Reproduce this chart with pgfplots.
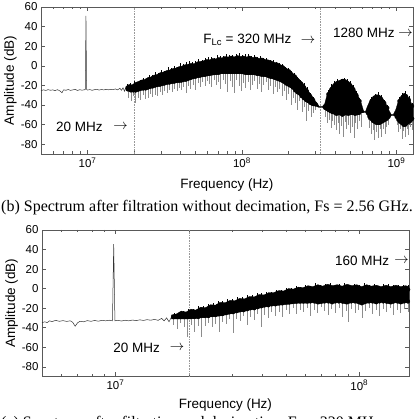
\documentclass[border=0pt]{standalone}
\usepackage{fontspec}
\setmainfont{Liberation Sans}
\newfontfamily\capfont{Liberation Serif}
\usepackage{pgfplots}
\usepackage{pgfplotstable}
\pgfplotsset{compat=1.18}

% ---------- top panel data (x = log10 of frequency in Hz) ----------
\pgfplotstableread{
x y
6.699 -25.5
6.715 -24.5
6.730 -25.2
6.745 -24.3
6.760 -25.0
6.775 -24.6
6.790 -25.3
6.805 -24.4
6.820 -25.5
6.835 -27.5
6.845 -24.5
6.860 -25.0
6.875 -24.2
6.890 -25.1
6.905 -24.6
6.920 -24.0
6.935 -25.2
6.950 -24.4
6.965 -24.9
6.980 -24.5
6.986 -24.0
6.990 51.0
6.994 -24.0
7.000 -24.8
7.015 -24.3
7.030 -25.0
7.045 -24.4
7.060 -24.0
7.075 -24.8
7.090 -24.2
7.105 -24.6
7.120 -24.0
7.135 -24.5
7.150 -24.1
7.165 -24.4
7.180 -23.6
7.195 -24.5
7.210 -23.0
7.220 -25.0
7.230 -22.5
7.240 -26.0
7.250 -21.0
}\topfloor

\pgfplotstableread{
x y
7.25 -21
7.27 -19
7.29 -19.5
7.31 -17
7.33 -16
7.35 -14.5
7.37 -14
7.39 -12
7.41 -11.5
7.43 -9.5
7.45 -9
7.47 -7
7.49 -6.5
7.51 -5
7.53 -4.5
7.55 -3
7.57 -2.5
7.59 -1
7.61 -0.5
7.63 1
7.65 1.5
7.67 2.5
7.69 2
7.71 4
7.73 4.5
7.75 5
7.77 6.5
7.79 6
7.81 7.5
7.83 7
7.85 8.5
7.87 8
7.89 9.5
7.91 9
7.93 10
7.95 9
7.97 10.5
7.99 9.5
8.01 10
8.03 9
8.05 10
8.07 8.5
8.09 9
8.11 7.5
8.13 8
8.15 6.5
8.17 6
8.19 5
8.21 3.5
8.23 3
8.25 1
8.27 0
8.29 -3
8.31 -4
8.33 -8
8.35 -10
8.37 -14
8.39 -17
8.41 -21
8.43 -26
8.45 -30
8.47 -35
8.49 -39
8.50 -41.5
8.52 -41.5
8.535 -39
8.55 -30
8.57 -23
8.59 -19
8.61 -16
8.63 -15
8.65 -13.5
8.67 -14
8.69 -16
8.71 -19
8.73 -24
8.75 -30
8.77 -37
8.785 -45
8.79 -46.5
8.80 -46.5
8.81 -42
8.83 -35
8.85 -31
8.87 -29.5
8.89 -30
8.91 -33
8.93 -38
8.95 -45
8.965 -49.5
8.98 -49.5
8.995 -45
9.01 -37
9.03 -31
9.05 -28
9.07 -30
9.09 -36
9.107 -42
9.107 -55
9.09 -58
9.07 -60
9.05 -62
9.03 -60
9.01 -56
8.995 -52
8.98 -50.5
8.965 -51
8.95 -54
8.93 -56
8.91 -58
8.89 -60
8.87 -60
8.85 -58
8.83 -55
8.81 -50
8.80 -47.5
8.79 -47.5
8.785 -48
8.77 -48
8.75 -50
8.73 -51
8.71 -49
8.69 -51
8.67 -50
8.65 -52
8.63 -50
8.61 -51
8.59 -49
8.57 -48
8.55 -46
8.535 -44
8.52 -42.5
8.50 -42.5
8.49 -42
8.47 -41
8.45 -40
8.43 -38
8.41 -36
8.39 -33
8.37 -30
8.35 -27
8.33 -24
8.31 -22
8.29 -20
8.27 -18
8.25 -16
8.23 -15
8.21 -14
8.19 -13
8.17 -12
8.15 -11
8.11 -10
8.07 -9
8.03 -9
7.99 -8
7.87 -8
7.83 -9
7.79 -10
7.75 -11
7.71 -12
7.67 -14
7.63 -16
7.59 -17
7.55 -18
7.51 -19
7.47 -21
7.43 -22
7.39 -24
7.35 -25
7.31 -27
7.27 -26
7.25 -25
}\topband

% downward spikes: top of spike y, length e
\pgfplotstableread{
x y e
7.262 -24 9
7.281 -25 11
7.296 -25 6
7.312 -25 13
7.329 -24 9
7.343 -23 12
7.361 -23 7
7.376 -23 11
7.392 -22 11
7.405 -21 8
7.421 -21 11
7.437 -20 10
7.452 -19 12
7.468 -19 8
7.483 -18 12
7.497 -18 8
7.514 -17 11
7.530 -17 8
7.546 -16 11
7.561 -16 8
7.578 -15 11
7.592 -15 8
7.607 -15 10
7.621 -14 8
7.637 -14 14
7.652 -13 8
7.668 -12 12
7.683 -11 9
7.699 -11 14
7.714 -10 8
7.728 -10 12
7.744 -9 8
7.760 -9 12
7.773 -8 8
7.789 -8 11
7.804 -7 15
7.818 -7 8
7.834 -7 13
7.849 -7 10
7.862 -6 18
7.878 -6 8
7.893 -6 13
7.907 -6 21
7.921 -6 10
7.936 -6 16
7.951 -6 22
7.966 -6 9
7.980 -6 15
7.995 -6 20
8.010 -6 12
8.024 -7 16
8.039 -7 10
8.053 -7 18
8.068 -7 13
8.082 -7 9
8.097 -8 16
8.112 -8 11
8.126 -9 18
8.141 -9 11
8.156 -9 8
8.170 -10 15
8.185 -11 10
8.200 -11 18
8.214 -12 10
8.229 -13 14
8.244 -14 10
8.258 -15 16
8.272 -16 10
8.287 -18 17
8.301 -19 10
8.316 -20 20
8.330 -22 11
8.345 -25 13
8.360 -27 18
8.374 -28 8
8.388 -31 16
8.402 -33 9
8.417 -35 21
8.431 -36 10
8.446 -38 14
8.460 -39 9
8.475 -39 6
8.540 -43 9
8.552 -44 14
8.563 -45 10
8.575 -46 17
8.586 -47 9
8.598 -47 13
8.609 -48 18
8.621 -48 10
8.632 -48 22
8.644 -48 13
8.655 -48 25
8.667 -48 9
8.678 -48 16
8.690 -48 12
8.701 -48 21
8.713 -48 14
8.724 -48 26
8.736 -48 10
8.747 -48 17
8.758 -48 8
8.770 -46 16
8.815 -48 7
8.826 -52 11
8.837 -54 16
8.848 -56 10
8.859 -57 19
8.870 -58 10
8.881 -58 16
8.892 -58 7
8.903 -57 16
8.914 -56 8
8.925 -55 15
8.936 -54 8
8.948 -52 8
9.002 -52 8
9.013 -55 13
9.024 -57 7
9.035 -58 17
9.046 -60 7
9.057 -60 13
9.068 -58 7
9.079 -57 14
9.090 -56 6
9.101 -54 12
}\topdown

% upward spikes: base y, length e
\pgfplotstableread{
x y e
7.26 -23 4
7.28 -22 4
7.30 -21 5
7.32 -20 3
7.34 -18 4
7.36 -17 5
7.38 -16 3
7.40 -14 5
7.42 -13 4
7.44 -12 6
7.46 -11 4
7.48 -9 5
7.50 -8 3
7.52 -7 6
7.54 -6 4
7.56 -5 5
7.58 -4 3
7.60 -3 6
7.62 -2 4
7.64 -1 5
7.66 -1 6
7.68 0 4
7.70 0 5
7.72 1 6
7.74 2 4
7.76 3 5
7.78 3 6
7.80 4 5
7.82 4 4
7.84 5 6
7.86 5 5
7.88 6 4
7.90 6 6
7.92 6 5
7.94 7 4
7.96 7 5
7.98 7 6
8.00 7 4
8.02 7 5
8.04 6 6
8.06 6 4
8.08 6 5
8.10 5 4
8.12 5 5
8.14 4 4
8.16 3 5
8.18 2 4
8.20 1 5
8.22 0 4
8.24 -1 4
8.26 -3 5
8.28 -4 3
8.30 -6 4
8.32 -9 4
8.34 -11 4
8.36 -15 4
8.38 -18 4
8.40 -22 4
8.42 -26 4
8.44 -31 3
8.46 -35 3
8.56 -29 4
8.58 -24 5
8.60 -20 4
8.62 -18 5
8.64 -17 4
8.66 -16 4
8.68 -18 5
8.70 -20 4
8.72 -24 4
8.74 -30 4
8.76 -36 3
8.84 -36 4
8.86 -33 4
8.88 -32 5
8.90 -34 4
8.92 -38 3
8.94 -43 3
9.02 -36 4
9.04 -32 4
9.06 -31 5
9.08 -35 4
9.10 -41 3
}\topup

% ---------- bottom panel data ----------
\pgfplotstableread{
x y
6.699 -35
6.710 -34
6.720 -34.8
6.730 -33
6.740 -33.8
6.755 -32.5
6.770 -33.5
6.785 -32.8
6.800 -33.6
6.815 -33
6.825 -34.5
6.835 -38.5
6.845 -35
6.855 -33.5
6.870 -34
6.885 -32.8
6.900 -33.5
6.915 -32.6
6.930 -33.4
6.945 -32.5
6.960 -33
6.975 -32.4
6.988 -33
6.993 45.6
6.998 -33
7.010 -32.5
7.025 -33.2
7.040 -32.4
7.055 -33
7.070 -32.2
7.085 -32.8
7.100 -32
7.115 -32.6
7.130 -31.8
7.145 -32.4
7.160 -31.5
7.175 -32.5
7.190 -30.5
7.200 -33
7.210 -30
7.220 -34
7.230 -29
}\botfloor

\pgfplotstableread{
x y
7.23 -27
7.25 -26
7.27 -23
7.29 -24
7.31 -21
7.33 -22
7.35 -19
7.37 -19.5
7.39 -16.5
7.41 -17
7.43 -14
7.45 -14.5
7.47 -12
7.49 -12.5
7.51 -10
7.53 -10.5
7.55 -8
7.57 -8.5
7.59 -6
7.61 -6.5
7.63 -4
7.65 -4
7.67 -2
7.69 -2.5
7.71 0
7.73 -0.5
7.75 1.5
7.77 1
7.79 3
7.81 2
7.83 4
7.85 2.5
7.87 4.5
7.89 3
7.91 4
7.93 2.5
7.95 4.5
7.97 3
7.99 4
8.01 2
8.03 4
8.05 2.5
8.07 3.5
8.09 2
8.11 3.5
8.13 2
8.15 3.5
8.17 2
8.19 3
8.204 2
8.204 -15
8.19 -14
8.17 -16
8.15 -14
8.13 -16
8.11 -15
8.09 -13
8.07 -16
8.05 -14
8.03 -15
8.01 -17
7.99 -15
7.97 -14
7.95 -16
7.93 -15
7.91 -13
7.89 -16
7.87 -14
7.85 -15
7.83 -16
7.81 -14
7.79 -15
7.75 -15
7.71 -16
7.67 -17
7.63 -18
7.59 -20
7.55 -22
7.51 -24
7.47 -26
7.43 -28
7.39 -29
7.35 -30
7.31 -31
7.27 -31
7.23 -31
}\botband

\pgfplotstableread{
x y e
7.238 -29 8
7.252 -29 12
7.267 -29 6
7.281 -29 10
7.296 -29 21
7.310 -29 8
7.324 -29 15
7.339 -29 9
7.352 -28 22
7.367 -28 10
7.381 -28 7
7.396 -27 12
7.410 -27 9
7.424 -26 18
7.438 -26 8
7.453 -25 11
7.468 -24 7
7.482 -24 21
7.497 -23 8
7.511 -22 11
7.526 -22 6
7.540 -21 16
7.554 -20 9
7.569 -20 12
7.583 -19 7
7.598 -18 21
7.612 -17 10
7.627 -17 13
7.641 -16 8
7.656 -16 12
7.670 -15 9
7.685 -15 14
7.699 -14 8
7.713 -14 12
7.728 -13 7
7.742 -13 13
7.757 -13 9
7.771 -13 11
7.786 -13 7
7.800 -13 15
7.815 -13 9
7.829 -13 12
7.844 -13 6
7.858 -13 10
7.873 -13 14
7.887 -13 8
7.902 -13 12
7.916 -13 7
7.931 -13 16
7.945 -13 10
7.953 -13 21
7.967 -13 8
7.982 -13 12
7.996 -13 9
8.011 -13 17
8.025 -13 10
8.040 -13 7
8.054 -13 13
8.069 -13 9
8.083 -13 15
8.098 -13 8
8.112 -13 11
8.127 -13 7
8.141 -13 14
8.156 -13 9
8.170 -13 12
8.185 -13 8
8.199 -13 11
}\botdown

\pgfplotstableread{
x y e
7.24 -29 4
7.26 -29 5
7.28 -27 4
7.30 -26 5
7.32 -25 4
7.34 -23 5
7.36 -22 4
7.38 -21 5
7.40 -19 4
7.42 -18 5
7.44 -17 4
7.46 -16 5
7.48 -15 4
7.50 -14 5
7.52 -13 4
7.54 -12 5
7.56 -11 4
7.58 -10 5
7.60 -9 4
7.62 -8 5
7.64 -7 4
7.66 -6 5
7.68 -5 4
7.70 -4 5
7.72 -3 4
7.74 -2 5
7.76 -2 4
7.78 -1 5
7.80 -1 4
7.82 0 6
7.84 0 4
7.86 0 5
7.88 0 6
7.90 0 4
7.92 0 5
7.94 0 6
7.96 0 4
7.98 0 5
8.00 0 4
8.02 0 6
8.04 0 4
8.06 0 5
8.08 -1 4
8.10 0 5
8.12 -1 6
8.14 0 4
8.16 -1 5
8.18 0 4
8.20 -1 5
}\botup

\pgfplotsset{
  specstyle/.style={
    scale only axis,
    ymin=-90, ymax=60,
    ytick={-80,-60,-40,-20,0,20,40,60},
    yticklabels={-80,-60,-40,-20,0,20,40,60},
    tick align=inside,
    tick pos=both,
    major tick length=4pt,
    minor tick length=2.5pt,
    axis line style={black!65},
    every tick/.style={black!65},
    tick label style={font=\fontsize{11.5}{13}\selectfont},
    ylabel={Amplitude (dB)},
    xlabel={Frequency (Hz)},
    clip=false,
  },
  downspk/.style={only marks, mark=none,
    error bars/.cd, y dir=minus, y explicit, error mark=none,
    error bar style={black!45, line width=0.55pt}},
  upspk/.style={only marks, mark=none,
    error bars/.cd, y dir=plus, y explicit, error mark=none,
    error bar style={black, line width=0.55pt}},
}
\tikzset{annot/.style={font=\fontsize{13.5}{16}\selectfont, inner sep=0pt}}

\begin{document}
\begin{tikzpicture}
% ================= top panel =================
\begin{axis}[specstyle,
  at={(41pt,265pt)}, anchor=south west,
  width=372pt, height=147pt,
  xmin=6.699, xmax=9.107,
  xtick={7,8,9},
  xticklabels={10\textsuperscript{7},10\textsuperscript{8},10\textsuperscript{9}},
  minor xtick={6.778,6.845,6.903,6.954,7.301,7.477,7.602,7.699,7.778,7.845,7.903,7.954,8.301,8.477,8.602,8.699,8.778,8.845,8.903,8.954},
  every axis y label/.style={at={(axis description cs:-0.082,0.5)},rotate=90,anchor=center,font=\fontsize{13.5}{16}\selectfont},
  every axis x label/.style={at={(axis description cs:0.5,-0.214)},anchor=center,font=\fontsize{13.5}{16}\selectfont},
]
\addplot[black!40, densely dotted, line width=0.6pt] coordinates {(7.301,-90) (7.301,60)};
\addplot[black!40, densely dotted, line width=0.6pt] coordinates {(8.505,-90) (8.505,60)};
\addplot[black!80, line width=0.5pt] table[x=x,y=y] {\topfloor};
\addplot[downspk] table[x=x,y=y,y error minus=e] {\topdown};
\addplot[fill=black, draw=black, line width=0.3pt] table[x=x,y=y] {\topband} -- cycle;
\addplot[upspk] table[x=x,y=y,y error plus=e] {\topup};
\node[annot, anchor=west] at (axis cs:6.796,-62.8) {20 MHz};
\node[annot, anchor=east] at (axis cs:7.262,-62.4) {$\rightarrow$};
\node[annot, anchor=west] at (axis cs:7.748,26.3) {F\textsubscript{Lc} = 320 MHz};
\node[annot, anchor=east] at (axis cs:8.475,25.3) {$\rightarrow$};
\node[annot, anchor=west] at (axis cs:8.589,33.5) {1280 MHz};
\node[annot, anchor=east] at (axis cs:9.107,32.5) {$\rightarrow$};
\end{axis}

% ================= bottom panel =================
\begin{axis}[specstyle,
  at={(42pt,42.5pt)}, anchor=south west,
  width=367pt, height=146.5pt,
  xmin=6.699, xmax=8.204,
  xtick={7,8},
  xticklabels={10\textsuperscript{7},10\textsuperscript{8}},
  minor xtick={6.778,6.845,6.903,6.954,7.301,7.477,7.602,7.699,7.778,7.845,7.903,7.954},
  every axis y label/.style={at={(axis description cs:-0.083,0.5)},rotate=90,anchor=center,font=\fontsize{13.5}{16}\selectfont},
  every axis x label/.style={at={(axis description cs:0.5,-0.195)},anchor=center,font=\fontsize{13.5}{16}\selectfont},
]
\addplot[black!40, densely dotted, line width=0.6pt] coordinates {(7.301,-90) (7.301,60)};
\addplot[black!80, line width=0.5pt] table[x=x,y=y] {\botfloor};
\addplot[downspk] table[x=x,y=y,y error minus=e] {\botdown};
\addplot[fill=black, draw=black, line width=0.3pt] table[x=x,y=y] {\botband} -- cycle;
\addplot[upspk] table[x=x,y=y,y error plus=e] {\botup};
\node[annot, anchor=west] at (axis cs:6.991,-60.9) {20 MHz};
\node[annot, anchor=east] at (axis cs:7.283,-60.9) {$\rightarrow$};
\node[annot, anchor=west] at (axis cs:7.900,28.2) {160 MHz};
\node[annot, anchor=east] at (axis cs:8.204,28.2) {$\rightarrow$};
\end{axis}

\node[anchor=base west, inner sep=0pt, font=\capfont\fontsize{16}{19}\selectfont] at (1pt,207pt) {(b) Spectrum after filtration without decimation, Fs = 2.56 GHz.};
\node[anchor=base west, inner sep=0pt, font=\capfont\fontsize{16}{19}\selectfont] at (1pt,-9pt) {(c) Spectrum after filtration and decimation, Fs = 320 MHz.};

\pgfresetboundingbox
\useasboundingbox (0pt,0pt) rectangle (419pt,419pt);
\end{tikzpicture}
\end{document}
